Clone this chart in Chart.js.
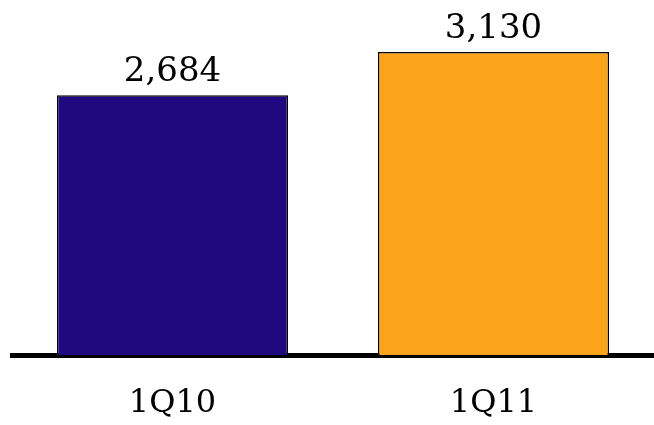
<!DOCTYPE html>
<html>
<head>
<meta charset="utf-8">
<script src="https://cdn.jsdelivr.net/npm/chart.js@4/dist/chart.umd.min.js"></script>
<style>
  html, body { margin: 0; padding: 0; background: #fff; }
  #wrap { width: 654px; height: 425px; }
</style>
</head>
<body>
<div id="wrap"><canvas id="c" width="654" height="425"></canvas></div>
<script>
// Quarterly totals
const quarters = ['1Q10', '1Q11'];
const totals = [2684, 3130];
const barColors = ['#200880', '#FCA31B'];

const serif = '"DejaVu Serif", "Liberation Serif", serif';

// Writes each bar's value just above its top edge
const valueLabels = {
  id: 'valueLabels',
  afterDatasetsDraw(chart) {
    const ctx = chart.ctx;
    const meta = chart.getDatasetMeta(0);
    const data = chart.data.datasets[0].data;
    ctx.save();
    ctx.fillStyle = '#000';
    ctx.font = '34px ' + serif;
    ctx.textAlign = 'center';
    ctx.textBaseline = 'alphabetic';
    meta.data.forEach((bar, i) => {
      ctx.fillText(data[i].toLocaleString('en-US'), bar.x, bar.y - 14);
    });
    ctx.restore();
  }
};

new Chart(document.getElementById('c'), {
  type: 'bar',
  data: {
    labels: quarters,
    datasets: [{
      data: totals,
      backgroundColor: barColors,
      borderColor: '#000',
      borderWidth: 1.5,
      barPercentage: 0.72,
      categoryPercentage: 1
    }]
  },
  options: {
    responsive: false,
    animation: false,
    devicePixelRatio: 1,
    layout: { padding: { left: 12, right: 0, top: 0, bottom: 0 } },
    plugins: {
      legend: { display: false },
      tooltip: { enabled: false }
    },
    scales: {
      x: {
        z: 1,
        grid: { display: false, drawTicks: false },
        border: { display: true, color: '#000', width: 5 },
        ticks: {
          color: '#000',
          padding: 29,
          font: { family: serif, size: 32 }
        },
        afterFit(scale) { scale.height = 70; }
      },
      y: {
        display: false,
        min: 0,
        max: 3667
      }
    }
  },
  plugins: [valueLabels]
});
</script>
</body>
</html>
